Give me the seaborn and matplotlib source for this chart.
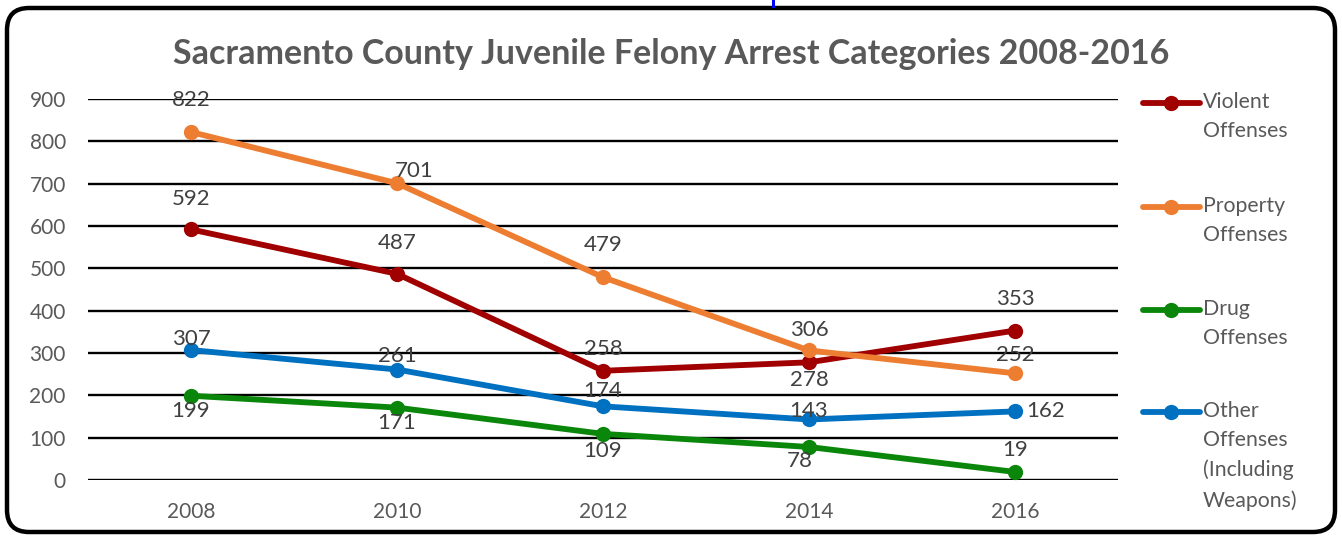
import numpy as np
import pandas as pd
import seaborn as sns
import matplotlib
matplotlib.use("Agg")
import matplotlib.pyplot as plt
from matplotlib.patches import FancyBboxPatch, Rectangle
from matplotlib.lines import Line2D

# --- data -------------------------------------------------------------
years = [2008, 2010, 2012, 2014, 2016]
violent = [592, 487, 258, 278, 353]
property_ = [822, 701, 479, 306, 252]
drug = [199, 171, 109, 78, 19]
other = [307, 261, 174, 143, 162]

series_names = ["Violent\nOffenses", "Property\nOffenses", "Drug\nOffenses",
                "Other\nOffenses\n(Including\nWeapons)"]
series_values = [violent, property_, drug, other]
colors = ["#A00000", "#ED7D31", "#0A870A", "#0070C0"]
y_ticks = [0, 100, 200, 300, 400, 500, 600, 700, 800, 900]
title = "Sacramento County Juvenile Felony Arrest Categories 2008-2016"

# label offsets (points) for each series / point
label_offsets = [
    [(0, 22), (0, 22), (0, 16), (0, -13), (0, 23)],
    [(0, 23), (12, 9), (0, 23), (0, 15), (0, 13)],
    [(0, -11), (0, -11), (0, -12), (-7, -10), (0, 16)],
    [(0, 8), (0, 10), (0, 11), (0, 6), (22, 0)],
]

df = pd.concat(
    [pd.DataFrame({"year": years, "value": v, "series": n})
     for n, v in zip(series_names, series_values)],
    ignore_index=True,
)

sns.set_theme(style="white")
plt.rcParams["font.family"] = ["Lato", "DejaVu Sans"]
text_gray = "#595959"
label_gray = "#404040"
LW, MS = 4.2, 11

W, H, DPI = 13.42, 5.36, 100
fig = plt.figure(figsize=(W, H), dpi=DPI)
fig.patch.set_facecolor("white")

ax = fig.add_axes([88 / 1342, 1 - 480 / 536, (1118 - 88) / 1342, (480 - 99) / 536])
ax.set_facecolor("white")

sns.lineplot(data=df, x="year", y="value", hue="series", hue_order=series_names,
             palette=colors, marker="o", markersize=MS, markeredgewidth=0,
             linewidth=LW, legend=False, ax=ax, zorder=3)

ax.set_xlim(2007, 2017)
ax.set_ylim(0, 900)
ax.set_yticks(y_ticks)
ax.set_xticks(years)
ax.set_xticklabels([str(y) for y in years])
for g in y_ticks:
    ax.axhline(g, color="black", lw=1.7, zorder=1)
for s in ax.spines.values():
    s.set_visible(False)
ax.grid(False)
ax.tick_params(axis="both", length=0, labelsize=15, labelcolor=text_gray)
ax.tick_params(axis="y", pad=16)
ax.tick_params(axis="x", pad=16)
ax.set_xlabel("")
ax.set_ylabel("")

# value labels
for vals, offs in zip(series_values, label_offsets):
    for x, v, (dx, dy) in zip(years, vals, offs):
        ax.annotate(str(v), (x, v), xytext=(dx, dy), textcoords="offset points",
                    ha="center", va="center", fontsize=16, color=label_gray,
                    zorder=5)

# title
fig.text(0.5, 1 - 54 / 536, title, ha="center", va="center", fontsize=24.5,
         fontweight="bold", color=text_gray)

# legend on the right
leg_rows = [103, 207, 310, 412]
for name, c, ypx in zip(series_names, colors, leg_rows):
    yf = 1 - ypx / 536
    fig.add_artist(Line2D([1143 / 1342, 1200 / 1342], [yf, yf], color=c, lw=LW,
                          transform=fig.transFigure))
    fig.add_artist(Line2D([1171 / 1342], [yf], color=c, marker="o", markersize=MS,
                          markeredgewidth=0, transform=fig.transFigure))
    fig.text(1203 / 1342, yf + 11 / 536, name, ha="left", va="top", fontsize=15.3,
             color=text_gray, linespacing=1.58)

# rounded frame
frame = FancyBboxPatch((0.27, 0.24), W - 0.54, H - 0.52,
                       boxstyle="round,pad=0.2,rounding_size=0.22",
                       transform=fig.dpi_scale_trans, fill=False,
                       edgecolor="black", linewidth=3.2)
fig.add_artist(frame)
fig.add_artist(Rectangle((772 / 1342, 1 - 8 / 536), 3 / 1342, 8 / 536,
                         transform=fig.transFigure, color="#0000FF", lw=0))

fig.savefig("out.png", dpi=DPI, facecolor="white")
